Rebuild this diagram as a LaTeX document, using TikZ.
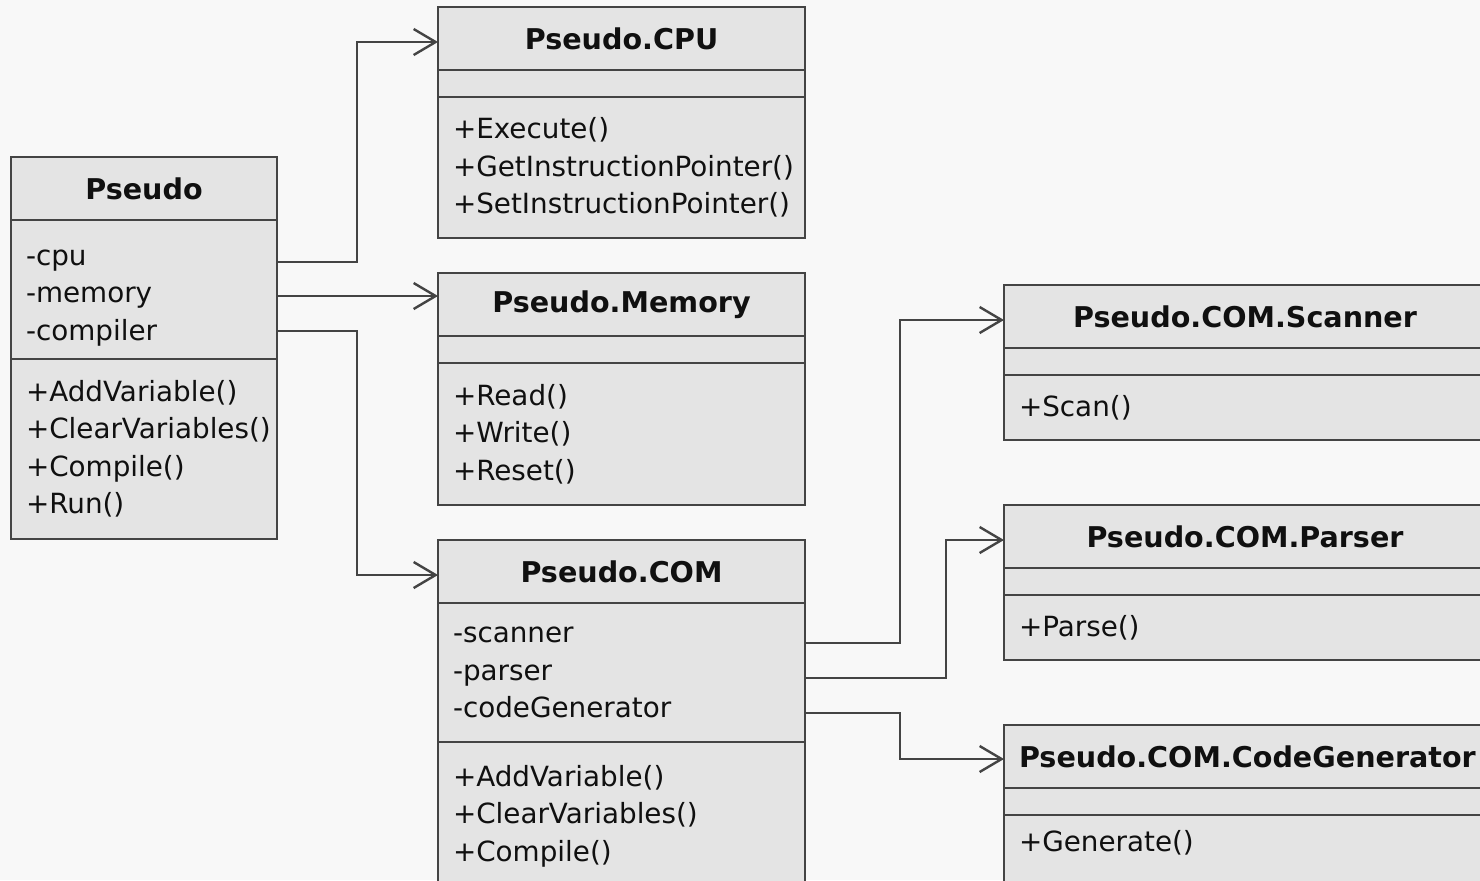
\documentclass[tikz,border=0pt]{standalone}
\usepackage{fontspec}
\setmainfont{DejaVu Sans}
\usetikzlibrary{positioning,arrows.meta}

\definecolor{bgcol}{HTML}{F8F8F8}
\definecolor{boxcol}{HTML}{E4E4E4}
\definecolor{linecol}{HTML}{444444}
\definecolor{txtcol}{HTML}{101010}
\newcommand\umlfont{\fontsize{13.9}{18.75}\selectfont}
\newcommand\umlheadfont{\fontsize{14.3}{18.75}\selectfont\bfseries}

\tikzset{
  uml/.style={draw=linecol, fill=boxcol, line width=1.35pt, outer sep=0pt,
    inner xsep=7.5pt, inner ysep=0pt, text=txtcol, font=\umlfont},
  umlhead/.style={uml, font=\umlheadfont, align=center, minimum height=31.5pt},
  umlpart/.style={uml, align=left},
  pseudow/.style={minimum width=133pt, text width=118pt},
  unitw/.style={minimum width=183.5pt, text width=168.5pt},
  comw/.style={minimum width=241pt, text width=226pt},
  assoc/.style={draw=linecol, line width=1.35pt,
    -{Straight Barb[length=11pt,width=13pt,line width=1.2pt]}}
}

\begin{document}
\begin{tikzpicture}[x=0.5pt, y=-0.5pt]
    \useasboundingbox (0,0) rectangle (1480,880);
    \fill[bgcol] (0,0) rectangle (1480,880);
    \clip (0,0) rectangle (1480,880);

    % Pseudo
    \node[umlhead, pseudow, anchor=north west] (pseudo) at (11,157) {Pseudo};
    \node[umlpart, pseudow, minimum height=69.5pt, below=0pt of pseudo] (pseudoattr) {\rule{0pt}{16pt}-cpu\\-memory\\-compiler};
    \node[umlpart, pseudow, minimum height=90pt, below=0pt of pseudoattr] (pseudoops) {+AddVariable()\\+ClearVariables()\\+Compile()\\+Run()};

    % Pseudo.CPU
    \node[umlhead, unitw, anchor=north west] (cpu) at (438,7) {Pseudo.CPU};
    \node[umlpart, unitw, minimum height=13.5pt, below=0pt of cpu] (cpuattr) {};
    \node[umlpart, unitw, minimum height=70.5pt, below=0pt of cpuattr] (cpuops) {+Execute()\\+GetInstructionPointer()\\+SetInstructionPointer()};

    % Pseudo.Memory
    \node[umlhead, unitw, anchor=north west] (mem) at (438,273) {Pseudo.Memory};
    \node[umlpart, unitw, minimum height=13.5pt, below=0pt of mem] (memattr) {};
    \node[umlpart, unitw, minimum height=71pt, below=0pt of memattr] (memops) {+Read()\\+Write()\\+Reset()};

    % Pseudo.COM
    \node[umlhead, unitw, anchor=north west] (com) at (438,540) {Pseudo.COM};
    \node[umlpart, unitw, minimum height=69.5pt, below=0pt of com] (comattr) {-scanner\\-parser\\-codeGenerator};
    \node[umlpart, unitw, minimum height=90pt, below=0pt of comattr] (comops) {+AddVariable()\\+ClearVariables()\\+Compile()\\\mbox{}};

    % Pseudo.COM.*
    \node[umlhead, comw, anchor=north west] (scan) at (1004,285) {Pseudo.COM.Scanner};
    \node[umlpart, comw, minimum height=13.5pt, below=0pt of scan] (scanattr) {};
    \node[umlpart, comw, minimum height=32.5pt, below=0pt of scanattr] (scanops) {+Scan()};

    \node[umlhead, comw, anchor=north west] (parse) at (1004,505) {Pseudo.COM.Parser};
    \node[umlpart, comw, minimum height=13.5pt, below=0pt of parse] (parseattr) {};
    \node[umlpart, comw, minimum height=32.5pt, below=0pt of parseattr] (parseops) {+Parse()};

    \node[umlhead, comw, anchor=north west] (gen) at (1004,725) {Pseudo.COM.CodeGenerator};
    \node[umlpart, comw, minimum height=13.5pt, below=0pt of gen] (genattr) {};
    \node[umlpart, comw, minimum height=45pt, below=0pt of genattr] (genops) {+Generate()\\\mbox{}};

    % associations
    \draw[assoc] ([yshift=13.75pt]pseudoattr.east) -- ++(80,0) |- ([yshift=-1.75pt]cpu.west);
    \draw[assoc] ([yshift=-3.25pt]pseudoattr.east) coordinate (pm) -- (pm -| mem.west);
    \draw[assoc] ([yshift=-20.75pt]pseudoattr.east) -- ++(80,0) |- ([yshift=-1.75pt]com.west);

    \draw[assoc] ([yshift=14.75pt]comattr.east) -- ++(95,0) |- ([yshift=-1.75pt]scan.west);
    \draw[assoc] ([yshift=-2.75pt]comattr.east) -- ++(141,0) |- ([yshift=-1.75pt]parse.west);
    \draw[assoc] ([yshift=-20.25pt]comattr.east) -- ++(95,0) |- ([yshift=-1.25pt]gen.west);
\end{tikzpicture}
\end{document}
